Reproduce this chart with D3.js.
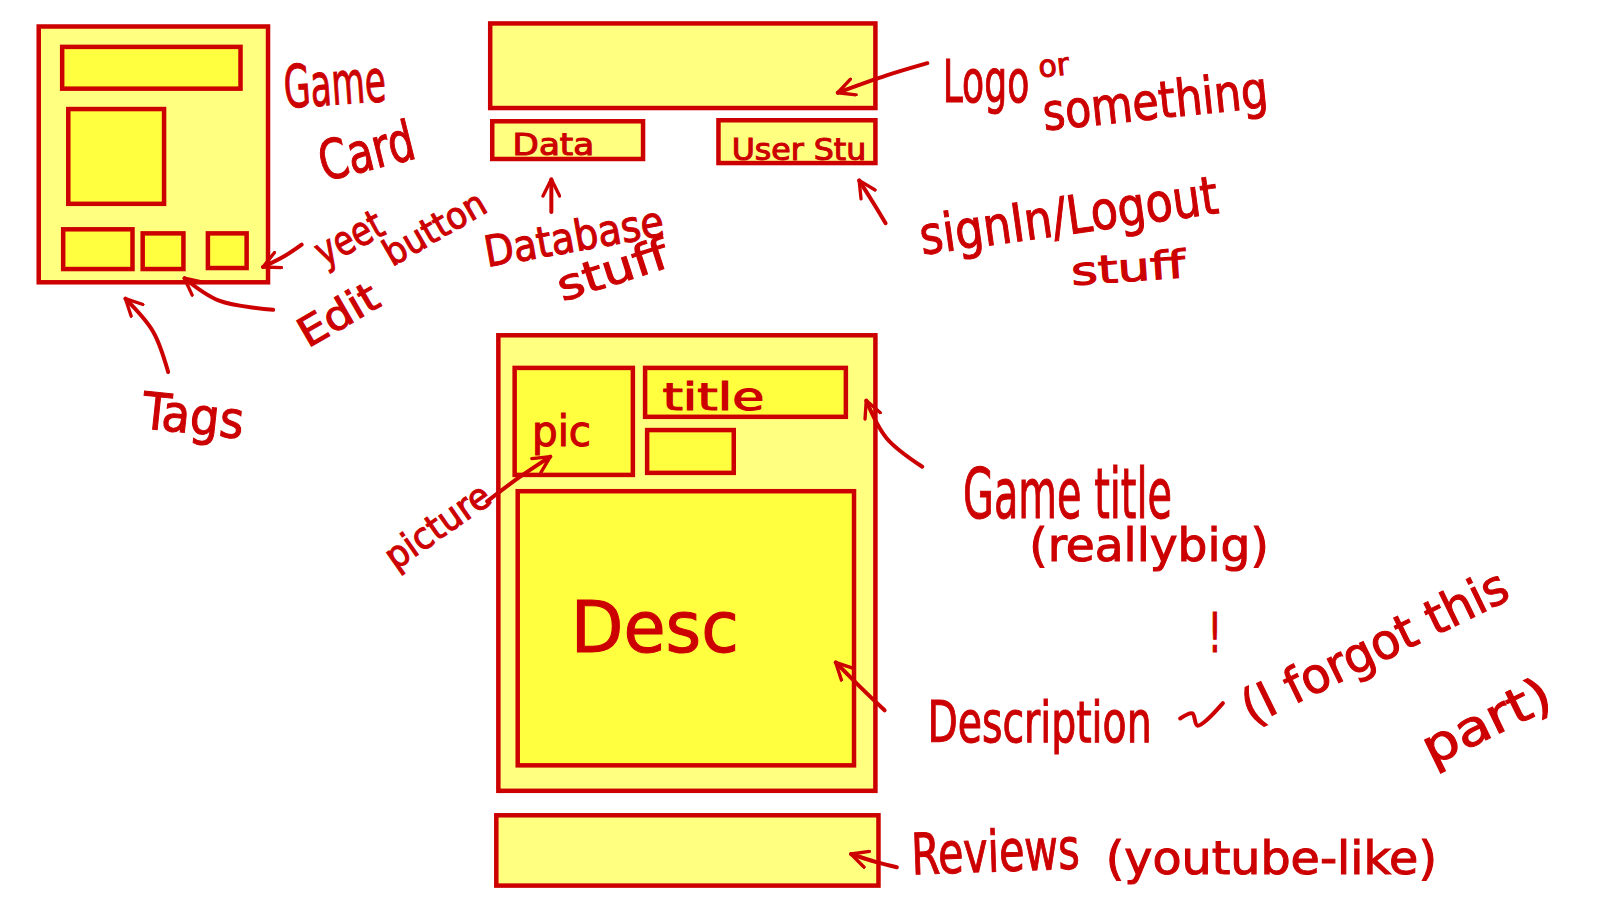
<!DOCTYPE html>
<html>
<head>
<meta charset="utf-8">
<script src="https://cdn.jsdelivr.net/npm/d3@7"></script>
<style>
  body { margin: 0; background: #fff; }
  svg text { font-family: "Liberation Sans Narrow", "DejaVu Sans Condensed", sans-serif; }
</style>
</head>
<body>
<div id="sketch"></div>
<script>
const width = 1600;
const height = 900;
const ink = "#cc0000";

// boxes of the wireframe: [x0, y0, x1, y1] (sketch units)
const boxNames = ["card", "cardTitle", "cardPic", "tag", "edit", "yeet",
  "header", "data", "user", "page", "pic", "title", "sub", "desc", "reviews"];
const boxExtents = [
  [38, 26, 263, 277], [61, 46, 236, 87], [67, 107, 161, 200],
  [62, 225, 130, 264], [140, 229, 180, 264], [204, 229, 242, 263],
  [481, 23, 859, 106], [483, 119, 631, 156], [705, 118, 859, 160],
  [489, 329, 859, 776], [505, 361, 621, 466], [633, 361, 830, 409],
  [635, 422, 720, 464], [508, 482, 838, 751], [487, 800, 862, 869]
];
const boxBright = [false, true, true, true, true, true,
  false, false, false, false, true, true, true, true, false];

// handwritten notes: text, anchor point, size, tilt, width
const noteTexts = ["Game", "Card", "yeet", "button", "Edit", "Tags",
  "Data", "User Stu", "Database", "stuff", "Logo", "or", "something",
  "signIn/Logout", "stuff", "title", "pic", "picture", "Game title",
  "(reallybig)", "!", "Desc", "Description", "(I forgot this", "part)",
  "Reviews", "(youtube-like)"];
const notePoints = [
  [280, 106], [318, 178], [318, 262], [385, 262], [302, 342], [138, 420],
  [503, 152], [718, 157], [478, 262], [552, 296], [925, 100], [1020, 76],
  [1025, 128], [905, 250], [1052, 280], [650, 402], [522, 438], [388, 560],
  [945, 508], [1010, 550], [1185, 640], [560, 640], [910, 728], [1228, 712],
  [1405, 752], [895, 858], [1085, 858]
];
const noteSizes = [58, 54, 40, 36, 40, 50, 30, 30, 42, 42, 58, 30, 50,
  52, 38, 36, 42, 36, 68, 46, 54, 70, 56, 48, 48, 56, 46];
const noteTilts = [-4, -14, -28, -30, -30, 6, 0, 0, -10, -18, 0, -6, -6,
  -8, -4, 0, 0, -35, 0, 0, 0, 0, 0, -26, -26, -2, 0];
const noteWidths = [100, 95, 70, 110, 85, 100, 80, 132, 178, 112, 85, 30, 222,
  295, 112, 100, 58, 118, 205, 235, 14, 165, 220, 285, 135, 165, 325];

// arrows drawn from tail to head
const arrowPaths = [
  [[910, 62], [870, 74], [822, 91]],
  [[296, 240], [278, 252], [258, 262]],
  [[268, 304], [215, 295], [181, 273]],
  [[165, 365], [150, 325], [123, 293]],
  [[541, 208], [541, 176]],
  [[869, 219], [855, 196], [843, 177]],
  [[905, 458], [870, 430], [850, 393]],
  [[478, 492], [510, 468], [540, 448]],
  [[868, 697], [845, 675], [820, 650]],
  [[880, 851], [860, 846], [835, 838]],
  [[1158, 705], [1170, 700], [1175, 712], [1200, 690]]
];

const span = 1570;
const x = d3.scaleLinear().domain([0, span]).range([0, width]);
const y = d3.scaleLinear().domain([0, span * height / width]).range([0, height]);
const k = width / span;

const svg = d3.select("#sketch").append("svg")
  .attr("width", width)
  .attr("height", height);

svg.append("defs").append("marker")
  .attr("id", "head")
  .attr("viewBox", "0 0 12 12")
  .attr("refX", 11).attr("refY", 6)
  .attr("markerWidth", 5).attr("markerHeight", 5)
  .attr("orient", "auto")
  .append("path")
  .attr("d", "M1,1 L11,6 L1,11")
  .attr("fill", "none")
  .attr("stroke", ink)
  .attr("stroke-width", 2)
  .attr("stroke-linecap", "round")
  .attr("stroke-linejoin", "round");

svg.selectAll("rect.box")
  .data(boxExtents)
  .enter()
  .append("rect")
  .attr("class", (d, i) => "box " + boxNames[i])
  .attr("x", d => x(d[0]))
  .attr("y", d => y(d[1]))
  .attr("width", d => x(d[2]) - x(d[0]))
  .attr("height", d => y(d[3]) - y(d[1]))
  .attr("fill", (d, i) => boxBright[i] ? "#ffff40" : "#ffff80")
  .attr("stroke", ink)
  .attr("stroke-width", 4.5);

const line = d3.line()
  .x(d => x(d[0]))
  .y(d => y(d[1]))
  .curve(d3.curveCatmullRom);

svg.selectAll("path.arrow")
  .data(arrowPaths)
  .enter()
  .append("path")
  .attr("class", "arrow")
  .attr("d", line)
  .attr("fill", "none")
  .attr("stroke", ink)
  .attr("stroke-width", 4)
  .attr("stroke-linecap", "round")
  .attr("marker-end", (d, i) => i < arrowPaths.length - 1 ? "url(#head)" : null);

svg.selectAll("text.note")
  .data(noteTexts)
  .enter()
  .append("text")
  .attr("class", "note")
  .attr("transform", (d, i) =>
    "translate(" + x(notePoints[i][0]) + "," + y(notePoints[i][1]) + ") rotate(" + noteTilts[i] + ")")
  .attr("font-size", (d, i) => noteSizes[i] * k)
  .attr("textLength", (d, i) => noteWidths[i] * k)
  .attr("lengthAdjust", "spacingAndGlyphs")
  .attr("fill", ink)
  .attr("stroke", ink)
  .attr("stroke-width", 1)
  .text(d => d);
</script>
</body>
</html>
